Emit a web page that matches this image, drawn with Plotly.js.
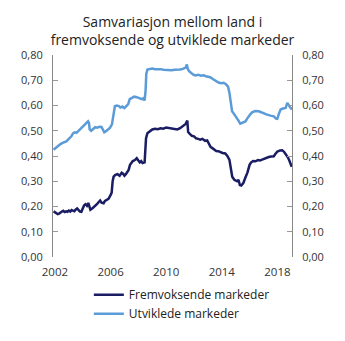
<!DOCTYPE html>
<html><head><meta charset="utf-8">
<script src="https://cdn.plot.ly/plotly-3.0.1.min.js"></script>
<style>html,body{margin:0;padding:0;background:#fff}#chart{width:345px;height:341px}</style>
</head><body><div id="chart"></div>
<script>
const titleText = "Samvariasjon mellom land i<br>fremvoksende og utviklede markeder";
const seriesNames = ["Fremvoksende markeder", "Utviklede markeder"];
const tickYears = [2002, 2006, 2010, 2014, 2018];
const tickValsY = [0, 0.1, 0.2, 0.3, 0.4, 0.5, 0.6, 0.7, 0.8];

const emergingX = [2001.9,2002.0,2002.1,2002.2,2002.3,2002.4,2002.5,2002.6,2002.7,2002.8,2002.9,2003.0,2003.1,2003.2,2003.3,2003.4,2003.5,2003.6,2003.7,2003.8,2003.9,2004.0,2004.1,2004.2,2004.3,2004.4,2004.5,2004.55,2004.7,2004.85,2005.0,2005.15,2005.25,2005.35,2005.5,2005.6,2005.75,2005.85,2006.0,2006.08,2006.15,2006.22,2006.35,2006.5,2006.65,2006.8,2006.9,2007.0,2007.1,2007.2,2007.3,2007.4,2007.5,2007.6,2007.75,2007.88,2008.0,2008.1,2008.2,2008.3,2008.45,2008.5,2008.55,2008.65,2008.8,2009.0,2009.2,2009.4,2009.6,2009.8,2010.0,2010.2,2010.4,2010.6,2010.8,2011.0,2011.2,2011.4,2011.52,2011.58,2011.7,2011.85,2012.0,2012.15,2012.3,2012.45,2012.6,2012.8,2012.95,2013.05,2013.2,2013.3,2013.45,2013.6,2013.75,2013.9,2014.05,2014.25,2014.4,2014.55,2014.65,2014.75,2014.9,2015.0,2015.1,2015.2,2015.3,2015.4,2015.55,2015.7,2015.85,2016.0,2016.1,2016.25,2016.42,2016.6,2016.75,2016.9,2017.05,2017.2,2017.38,2017.55,2017.74,2017.85,2018.0,2018.2,2018.35,2018.5,2018.6,2018.75,2018.85,2018.95,2019.03];
const emergingY = [0.181,0.178,0.174,0.170,0.172,0.178,0.180,0.183,0.178,0.181,0.179,0.184,0.180,0.186,0.185,0.181,0.188,0.192,0.186,0.180,0.179,0.192,0.205,0.209,0.203,0.214,0.200,0.187,0.193,0.200,0.208,0.218,0.224,0.215,0.213,0.222,0.228,0.230,0.245,0.255,0.300,0.318,0.325,0.328,0.322,0.334,0.330,0.322,0.328,0.338,0.345,0.365,0.372,0.380,0.384,0.391,0.382,0.375,0.380,0.372,0.375,0.420,0.470,0.490,0.498,0.505,0.508,0.506,0.510,0.508,0.513,0.511,0.510,0.507,0.505,0.510,0.518,0.527,0.540,0.495,0.488,0.480,0.478,0.470,0.468,0.465,0.468,0.460,0.462,0.450,0.435,0.432,0.425,0.420,0.419,0.415,0.412,0.410,0.400,0.385,0.350,0.318,0.306,0.304,0.300,0.306,0.285,0.283,0.293,0.315,0.335,0.365,0.374,0.380,0.379,0.384,0.382,0.386,0.390,0.393,0.396,0.398,0.399,0.408,0.418,0.422,0.423,0.415,0.408,0.395,0.383,0.365,0.357];

const developedX = [2001.9,2002.0,2002.1,2002.25,2002.4,2002.55,2002.7,2002.82,2003.0,2003.18,2003.3,2003.42,2003.55,2003.7,2003.8,2003.95,2004.1,2004.25,2004.38,2004.45,2004.5,2004.6,2004.75,2004.9,2005.05,2005.2,2005.35,2005.45,2005.55,2005.65,2005.8,2005.95,2006.1,2006.2,2006.31,2006.45,2006.6,2006.7,2006.85,2007.0,2007.1,2007.27,2007.38,2007.52,2007.7,2007.88,2008.0,2008.12,2008.24,2008.35,2008.45,2008.52,2008.57,2008.65,2008.8,2009.0,2009.2,2009.4,2009.6,2009.8,2010.0,2010.2,2010.4,2010.6,2010.8,2011.0,2011.2,2011.4,2011.49,2011.55,2011.65,2011.8,2011.95,2012.1,2012.3,2012.5,2012.69,2012.85,2013.0,2013.17,2013.35,2013.5,2013.65,2013.8,2014.0,2014.13,2014.3,2014.45,2014.55,2014.65,2014.74,2014.9,2015.1,2015.2,2015.33,2015.5,2015.7,2015.85,2015.93,2016.05,2016.18,2016.4,2016.66,2016.85,2017.05,2017.26,2017.5,2017.74,2017.9,2017.99,2018.1,2018.23,2018.4,2018.59,2018.71,2018.8,2018.9,2019.0,2019.05];
const developedY = [0.425,0.430,0.435,0.440,0.447,0.452,0.455,0.458,0.468,0.478,0.490,0.494,0.492,0.500,0.504,0.512,0.520,0.530,0.537,0.530,0.505,0.500,0.508,0.514,0.512,0.516,0.515,0.505,0.494,0.497,0.505,0.511,0.525,0.560,0.597,0.600,0.598,0.592,0.596,0.590,0.596,0.606,0.625,0.630,0.635,0.633,0.630,0.626,0.625,0.628,0.620,0.660,0.725,0.742,0.745,0.746,0.744,0.745,0.744,0.742,0.741,0.740,0.740,0.742,0.742,0.743,0.745,0.750,0.762,0.745,0.736,0.728,0.722,0.719,0.722,0.718,0.720,0.716,0.713,0.712,0.705,0.700,0.696,0.690,0.688,0.690,0.684,0.675,0.650,0.610,0.577,0.565,0.551,0.540,0.528,0.532,0.537,0.550,0.557,0.565,0.573,0.578,0.577,0.572,0.568,0.564,0.560,0.557,0.548,0.547,0.566,0.584,0.588,0.590,0.610,0.600,0.594,0.588,0.584];

const darkColor = "#1b1d64";
const lightColor = "#5b9bd8";
const fontFam = "'Open Sans', 'Noto Sans', sans-serif";

const traces = [
  {x: emergingX, y: emergingY, name: seriesNames[0], type: "scatter", mode: "lines",
   line: {color: darkColor, width: 2.5}, yaxis: "y"},
  {x: developedX, y: developedY, name: seriesNames[1], type: "scatter", mode: "lines",
   line: {color: lightColor, width: 2.5}, yaxis: "y2"}
];

const yCommon = {
  range: [0, 0.8], tickvals: tickValsY, tickformat: ".2f",
  ticks: "inside", ticklen: 5, tickcolor: "#999", showline: true, linecolor: "#888", linewidth: 1,
  showgrid: false, zeroline: false, tickfont: {size: 11, color: "#333", family: fontFam},
  ticklabelstandoff: 7, fixedrange: true
};

const layout = {
  width: 345, height: 341,
  margin: {l: 53, r: 53, t: 55, b: 84, pad: 0},
  paper_bgcolor: "#fff", plot_bgcolor: "#fff",
  separators: ", ",
  font: {family: fontFam, color: "#222"},
  title: {text: titleText, font: {size: 14, color: "#222", family: fontFam},
    x: 0.5, xanchor: "center", xref: "paper", yref: "container", y: 0.92, yanchor: "bottom"},
  xaxis: {range: [2001.86, 2019.05], tickvals: tickYears, ticktext: tickYears.map(String),
    showline: false, ticks: "", showgrid: false, zeroline: false,
    tickfont: {size: 11.5, color: "#333", family: fontFam}, ticklabelstandoff: 6},
  yaxis: Object.assign({}, yCommon, {side: "left"}),
  yaxis2: Object.assign({}, yCommon, {side: "right", overlaying: "y"}),
  showlegend: true,
  legend: {orientation: "v", x: 0.15, xanchor: "left", y: -0.115, yanchor: "top",
    font: {size: 12, color: "#222", family: fontFam}, tracegroupgap: 0, itemwidth: 30,
    bgcolor: "rgba(0,0,0,0)"}
};

Plotly.newPlot("chart", traces, layout, {staticPlot: true, displayModeBar: false});
</script></body></html>
